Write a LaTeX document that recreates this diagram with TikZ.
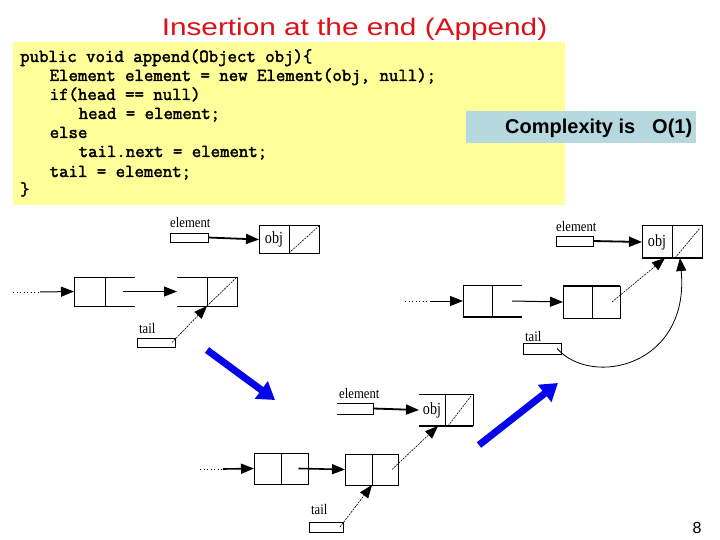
\documentclass[tikz,border=0pt]{standalone}
\usepackage{fontspec}
\usepackage{graphicx}
\setmainfont{Liberation Serif}
\setsansfont{Liberation Sans}
\usetikzlibrary{arrows.meta}
\definecolor{codeyellow}{RGB}{255,255,153}
\definecolor{cplxblue}{RGB}{181,217,222}
\definecolor{titlered}{RGB}{222,16,22}
\definecolor{bigblue}{RGB}{5,5,235}
\newfontfamily\codefont[FakeBold=2.2]{Latin Modern Mono}
\newcommand{\lbltext}[1]{\scalebox{0.87}[1]{#1}}
\newcommand{\objtext}[1]{\scalebox{0.83}[1]{#1}}
\tikzset{
  cell/.style={rectangle, inner sep=0pt, outer sep=0pt, draw=none},
  ptrbox/.style={rectangle, draw, line width=1pt, inner sep=0pt, outer sep=0pt},
  lbl/.style={font=\fontsize{14.6}{14.6}\selectfont, inner sep=0pt, anchor=base west},
  celltext/.style={font=\fontsize{17}{17}\selectfont},
  edge/.style={line width=1pt},
  thickedge/.style={line width=2.4pt},
  ptrarrow/.style={line width=1.8pt, -{Triangle[length=13pt,width=10pt]}},
  nextarrow/.style={line width=1pt, -{Triangle[length=13pt,width=10pt]}},
  tailarrow/.style={line width=0.6pt, dash pattern=on 2pt off 1pt, -{Triangle[length=13pt,width=10pt]}},
  nullline/.style={line width=0.6pt, dash pattern=on 2pt off 1pt},
  dots/.style={line width=1pt, dash pattern=on 1pt off 2.5pt},
  bigarrow/.style={line width=7pt, draw=bigblue, -{Triangle[length=17pt,width=21pt]}},
  codeline/.style={anchor=base west, inner sep=0pt, font=\codefont\fontsize{18.3}{19}\selectfont},
}
\begin{document}
\begin{tikzpicture}[x=1pt,y=-1pt]
\useasboundingbox (0,0) rectangle (720,540);
\fill[white] (0,0) rectangle (720,540);

% title
\node[font=\sffamily\fontsize{24}{25}\selectfont, text=titlered, anchor=base, inner sep=0pt] (title) at (354.5,35.5) {\scalebox{1.24}[1]{Insertion at the end (Append)}};

% code box
\node[fill=codeyellow, inner sep=0pt, minimum width=552pt, minimum height=163pt, anchor=north west] (codebg) at (13,42) {};
\node[codeline] (c1) at (20,62) {public void append(Object obj)\{};
\node[codeline] (c2) at (49.5,81) {Element element = new Element(obj, null);};
\node[codeline] (c3) at (49.5,100) {if(head == null)};
\node[codeline] (c4) at (78.5,119) {head = element;};
\node[codeline] (c5) at (49.5,138) {else};
\node[codeline] (c6) at (78.5,157) {tail.next = element;};
\node[codeline] (c7) at (49.5,177) {tail = element;};
\node[codeline] (c8) at (20,195) {\}};

% complexity box
\node[fill=cplxblue, inner sep=0pt, minimum width=230pt, minimum height=32pt, anchor=north west] (cplx) at (466,111) {};
\node[font=\sffamily\bfseries\fontsize{20}{20}\selectfont, anchor=base west, inner sep=0pt] (cplxt) at (505,134) {Complexity is};
\node[font=\sffamily\bfseries\fontsize{20}{20}\selectfont, anchor=base west, inner sep=0pt] (cplxo) at (652,134) {O(1)};

% ---------- top-left diagram ----------
\node[lbl] (lA) at (170,228) {\lbltext{element}};
\node[ptrbox, minimum width=38pt, minimum height=9pt] (eA) at (189,237.5) {};
\node[cell, draw, line width=1pt, minimum width=30pt, minimum height=27pt, celltext] (objAL) at (274,239.5) {\objtext{obj}};
\node[cell, draw, line width=1pt, minimum width=30pt, minimum height=27pt] (objAR) at (304,239.5) {};
\draw[nullline] (objAR.south west) -- (objAR.north east);
\draw[ptrarrow] (eA.east) -- (objAL.west);

\node[cell, minimum width=31pt, minimum height=29pt] (A1L) at (89.5,291.5) {};
\node[cell, minimum width=30pt, minimum height=29pt] (A1R) at (120,291.5) {};
\draw[edge] (A1R.north east) -- (A1L.north west) -- (A1L.south west) -- (A1R.south east);
\draw[edge] (A1L.north east) -- (A1L.south east);
\node[cell, minimum width=30pt, minimum height=29pt] (A2L) at (192,291.5) {};
\node[cell, minimum width=30pt, minimum height=29pt] (A2R) at (222,291.5) {};
\draw[edge] (A2L.north west) -- (A2R.north east) -- (A2R.south east) -- (A2L.south west);
\draw[edge] (A2L.north east) -- (A2L.south east);
\draw[nullline] (A2R.south west) -- (A2R.north east);
\coordinate (dA0) at (13,292);
\coordinate (dA1) at (40,292);
\draw[dots] (dA0) -- (dA1);
\draw[nextarrow] (dA1) -- (A1L.west);
\draw[nextarrow] ([xshift=3pt]A1R.center) -- (A2L.west);
\node[lbl] (lAt) at (139,333) {\lbltext{tail}};
\node[ptrbox, minimum width=38pt, minimum height=9pt] (tA) at (156,342.5) {};
\draw[tailarrow] ([xshift=-3pt]tA.east) -- (A2R.south west);

% ---------- right diagram ----------
\node[lbl] (lC) at (556,231) {\lbltext{element}};
\node[ptrbox, minimum width=37pt, minimum height=10pt] (eC) at (574.5,241) {};
\node[cell, draw, line width=1pt, minimum width=30pt, minimum height=32pt, celltext] (objCL) at (657,242) {\objtext{obj}};
\node[cell, draw, line width=1pt, minimum width=30pt, minimum height=32pt] (objCR) at (687,242) {};
\draw[thickedge] (objCL.south west) -- (objCR.south east);
\draw[nullline] ([xshift=3pt]objCR.south west) -- ([xshift=-2pt,yshift=-2pt]objCR.north east);
\draw[ptrarrow] (eC.east) -- (objCL.west);

\node[cell, minimum width=29pt, minimum height=32pt] (C1L) at (477.5,301) {};
\node[cell, minimum width=30pt, minimum height=32pt] (C1R) at (507,301) {};
\draw[edge] (C1R.north east) -- (C1L.north west) -- (C1L.south west);
\draw[thickedge] (C1L.south west) -- (C1R.south east);
\draw[edge] (C1L.north east) -- (C1L.south east);
\node[cell, draw, line width=1pt, minimum width=29pt, minimum height=32pt] (C2L) at (577.5,302) {};
\node[cell, draw, line width=1pt, minimum width=28pt, minimum height=32pt] (C2R) at (606,302) {};
\draw[thickedge] (C2L.north west) -- (C2R.north east);
\coordinate (dC0) at (405,301);
\coordinate (dC1) at (430,301);
\draw[dots] (dC0) -- (dC1);
\draw[nextarrow] (dC1) -- (C1L.west);
\draw[nextarrow] ([xshift=5pt]C1R.center) -- (C2L.west);
\draw[tailarrow] ([xshift=6pt]C2R.center) -- ([xshift=-7pt]objCL.south east);
\node[lbl] (lCt) at (525,341) {\lbltext{tail}};
\node[ptrbox, minimum width=38pt, minimum height=11pt] (tC) at (542,348.5) {};
\draw[line width=0.8pt, -{Triangle[length=13pt,width=10pt]}] ([xshift=-4pt]tC.east) .. controls (592,388) and (690,366) .. ([xshift=8pt]objCR.south west);

% ---------- bottom diagram ----------
\node[lbl] (lB) at (339,398) {\lbltext{element}};
\node[cell, minimum width=36pt, minimum height=11pt] (eB) at (355,408.5) {};
\draw[edge] (eB.north west) -- (eB.north east) -- (eB.south east) -- (eB.south west);
\node[cell, minimum width=26pt, minimum height=32pt, celltext] (objBL) at (432,410) {\objtext{obj}};
\node[cell, minimum width=28pt, minimum height=32pt] (objBR) at (459,410) {};
\draw[edge] (objBL.north west) -- (objBR.north east) -- (objBR.south east);
\draw[thickedge] (objBL.south west) -- (objBR.south east);
\draw[edge] (objBL.north east) -- (objBL.south east);
\draw[nullline] ([xshift=3pt]objBR.south west) -- ([xshift=-2pt,yshift=-2pt]objBR.north east);
\draw[ptrarrow] (eB.east) -- (objBL.west);

\node[cell, draw, line width=1pt, minimum width=27pt, minimum height=31pt] (B1L) at (267.5,468.5) {};
\node[cell, draw, line width=1pt, minimum width=27pt, minimum height=31pt] (B1R) at (294.5,468.5) {};
\node[cell, draw, line width=1pt, minimum width=27pt, minimum height=31pt] (B2L) at (358.5,469.5) {};
\node[cell, draw, line width=1pt, minimum width=26pt, minimum height=31pt] (B2R) at (385,469.5) {};
\coordinate (dB0) at (200,469);
\coordinate (dB1) at (223,469);
\draw[dots] (dB0) -- (dB1);
\draw[nextarrow, line width=1.6pt] (dB1) -- (B1L.west);
\draw[nextarrow, line width=1.6pt] ([xshift=4pt]B1R.center) -- (B2L.west);
\draw[tailarrow] ([xshift=7pt]B2R.center) -- ([xshift=6pt]objBL.south);
\node[lbl] (lBt) at (311,514) {\lbltext{tail}};
\node[ptrbox, minimum width=34pt, minimum height=10pt] (tB) at (326,527) {};
\draw[tailarrow] ([xshift=-3pt]tB.east) -- (B2L.south east);

% big blue arrows
\coordinate (ba1s) at (207,350);
\coordinate (ba1e) at (275,400);
\coordinate (ba2s) at (479,445);
\coordinate (ba2e) at (558,383);
\draw[bigarrow] (ba1s) -- (ba1e);
\draw[bigarrow] (ba2s) -- (ba2e);

% page number
\node[font=\sffamily\fontsize{16}{16}\selectfont, anchor=base, inner sep=0pt] (pg) at (697,533) {8};
\end{tikzpicture}
\end{document}
